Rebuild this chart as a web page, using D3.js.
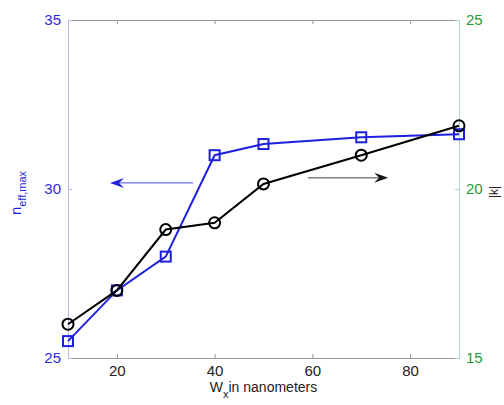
<!DOCTYPE html>
<html lang="en">
<head>
<meta charset="UTF-8">
<title>n_eff,max and |k| vs Wx</title>
<style>
  body { margin: 0; background: #fff; }
  text { font-family: "Liberation Sans", Arial, sans-serif; }
</style>
</head>
<body>
<script src="https://cdn.jsdelivr.net/npm/d3@7"></script>
<script>
// data
var widths = [10, 20, 30, 40, 50, 70, 90];
var neffMax = [25.5, 27.0, 28.0, 31.0, 31.33, 31.53, 31.62];   // left axis, blue squares
var kAbs = [16.0, 17.0, 18.8, 19.0, 20.15, 21.0, 21.87];        // right axis, black circles
var xTicks = [20, 40, 60, 80];
var leftTicks = [25, 30, 35];
var rightTicks = [15, 20, 25];
// arrows pointing to the axis each curve belongs to
var arrows = [
  { axis: "left", x1: 35.6, x2: 18.6, y: 30.18, color: "#2020e0" },
  { axis: "right", x1: 59.1, x2: 75.5, y: 20.33, color: "#111" }
];

var width = 504, height = 405;
var m = { left: 68, right: 45, top: 20, bottom: 47 };

var svg = d3.select("body").append("svg")
  .attr("width", width)
  .attr("height", height);

var x = d3.scaleLinear().domain([10, 90]).range([m.left, width - m.right]);
var yL = d3.scaleLinear().domain([25, 35]).range([height - m.bottom, m.top]);
var yR = d3.scaleLinear().domain([15, 25]).range([height - m.bottom, m.top]);

var blue = "#1f1fe0", green = "#1f9a3a";

// frame lines with inward ticks
svg.append("g")
  .attr("transform", "translate(0," + (height - m.bottom) + ")")
  .call(d3.axisBottom(x).tickValues(xTicks).tickSizeInner(-4).tickSizeOuter(0).tickPadding(7))
  .call(function (g) {
    g.select(".domain").attr("stroke", "#999");
    g.selectAll(".tick line").attr("stroke", "#999");
    g.selectAll(".tick text").attr("fill", "#222").style("font-size", "15px");
  });

svg.append("g")
  .attr("transform", "translate(0," + m.top + ")")
  .call(d3.axisTop(x).tickValues(xTicks).tickSizeInner(-4).tickSizeOuter(0).tickFormat(""))
  .call(function (g) {
    g.select(".domain").attr("stroke", "#999");
    g.selectAll(".tick line").attr("stroke", "#999");
  });

svg.append("g")
  .attr("transform", "translate(" + m.left + ",0)")
  .call(d3.axisLeft(yL).tickValues(leftTicks).tickSizeInner(-4).tickSizeOuter(0).tickPadding(7))
  .call(function (g) {
    g.select(".domain").attr("stroke", "#b8b8e6");
    g.selectAll(".tick line").attr("stroke", "#b8b8e6");
    g.selectAll(".tick text").attr("fill", "#2b2bd6").style("font-size", "15px");
  });

svg.append("g")
  .attr("transform", "translate(" + (width - m.right) + ",0)")
  .call(d3.axisRight(yR).tickValues(rightTicks).tickSizeInner(-4).tickSizeOuter(0).tickPadding(7))
  .call(function (g) {
    g.select(".domain").attr("stroke", "#a8d6cc");
    g.selectAll(".tick line").attr("stroke", "#a8d6cc");
    g.selectAll(".tick text").attr("fill", green).style("font-size", "15px");
  });

// curves
var blueLine = d3.line().x(function (d, i) { return x(widths[i]); }).y(function (d) { return yL(d); });
var blackLine = d3.line().x(function (d, i) { return x(widths[i]); }).y(function (d) { return yR(d); });

svg.append("path").datum(neffMax)
  .attr("d", blueLine).attr("fill", "none").attr("stroke", blue).attr("stroke-width", 2);

svg.selectAll(".sq").data(neffMax).enter().append("rect")
  .attr("class", "sq")
  .attr("x", function (d, i) { return x(widths[i]) - 5; })
  .attr("y", function (d) { return yL(d) - 5; })
  .attr("width", 10).attr("height", 10)
  .attr("fill", "none").attr("stroke", blue).attr("stroke-width", 2);

svg.append("path").datum(kAbs)
  .attr("d", blackLine).attr("fill", "none").attr("stroke", "#000").attr("stroke-width", 2);

svg.selectAll(".ci").data(kAbs).enter().append("circle")
  .attr("class", "ci")
  .attr("cx", function (d, i) { return x(widths[i]); })
  .attr("cy", function (d) { return yR(d); })
  .attr("r", 5.5)
  .attr("fill", "none").attr("stroke", "#000").attr("stroke-width", 2);

// annotation arrows
arrows.forEach(function (a) {
  var ys = a.axis === "left" ? yL : yR;
  var x1 = x(a.x1), x2 = x(a.x2), yy = ys(a.y);
  var dir = x2 > x1 ? 1 : -1;
  svg.append("line")
    .attr("x1", x1).attr("x2", x2 - dir * 8).attr("y1", yy).attr("y2", yy)
    .attr("stroke", a.color).attr("stroke-width", 1).attr("opacity", 0.8);
  svg.append("path")
    .attr("d", "M" + x2 + "," + yy +
      "L" + (x2 - dir * 14) + "," + (yy - 5) +
      "L" + (x2 - dir * 9) + "," + yy +
      "L" + (x2 - dir * 14) + "," + (yy + 5) + "Z")
    .attr("fill", a.color);
});

// axis titles
var xt = svg.append("text")
  .attr("x", (m.left + width - m.right) / 2)
  .attr("y", 392)
  .attr("text-anchor", "middle")
  .attr("fill", "#222")
  .style("font-size", "14px");
xt.append("tspan").text("W");
xt.append("tspan").attr("dy", 6).style("font-size", "11px").text("x");
xt.append("tspan").attr("dy", -6).text("in nanometers");

var yt = svg.append("text")
  .attr("transform", "translate(21,193) rotate(-90)")
  .attr("text-anchor", "middle")
  .attr("fill", blue)
  .style("font-size", "15px");
yt.append("tspan").text("n");
yt.append("tspan").attr("dy", 5).style("font-size", "11px").text("eff,max");

svg.append("text")
  .attr("transform", "translate(498,192) rotate(-90)")
  .attr("text-anchor", "middle")
  .attr("fill", "#222")
  .style("font-size", "12px")
  .text("|k|");
</script>
</body>
</html>
